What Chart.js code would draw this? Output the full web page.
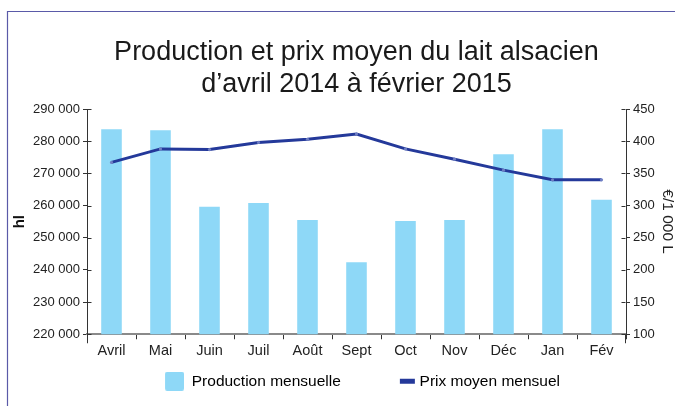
<!DOCTYPE html>
<html><head><meta charset="utf-8">
<script src="https://cdn.jsdelivr.net/npm/chart.js@4/dist/chart.umd.min.js"></script>
<style>html,body{margin:0;padding:0;background:#fff;}</style>
</head><body>
<canvas id="c" width="675" height="406" style="display:block;width:675px;height:406px"></canvas>
<script>
const categories = ['Avril','Mai','Juin','Juil','Août','Sept','Oct','Nov','Déc','Jan','Fév'];
const production = [283700,283400,259600,260800,255500,242400,255200,255500,275900,283700,261800];
const prix = [367,388,387,398,403,411,388,372,355,340,340];
const leftTicks = [220000,230000,240000,250000,260000,270000,280000,290000];
const rightTicks = [100,150,200,250,300,350,400,450];
const titleLines = ['Production et prix moyen du lait alsacien','d\u2019avril 2014 \u00e0 f\u00e9vrier 2015'];
const seriesNames = ['Production mensuelle','Prix moyen mensuel'];

const FONT = "'Liberation Sans', Arial, sans-serif";
const BAR_COLOR = '#8ed8f7';
const LINE_COLOR = '#24399a';
const LEG_W = 61;

function fmt(v){ return String(v).replace(/\B(?=(\d{3})+(?!\d))/g, ' '); }

// legend images
const img1 = document.createElement('canvas');
img1.width = LEG_W; img1.height = 19;
(function(){ const g = img1.getContext('2d'); g.fillStyle = BAR_COLOR;
  const x = LEG_W-19, r = 2; g.beginPath();
  g.moveTo(x+r,0); g.lineTo(x+19-r,0); g.quadraticCurveTo(x+19,0,x+19,r);
  g.lineTo(x+19,19-r); g.quadraticCurveTo(x+19,19,x+19-r,19);
  g.lineTo(x+r,19); g.quadraticCurveTo(x,19,x,19-r); g.lineTo(x,r); g.quadraticCurveTo(x,0,x+r,0);
  g.fill(); })();
const img2 = document.createElement('canvas');
img2.width = LEG_W + 8; img2.height = 19;
(function(){ const g = img2.getContext('2d'); g.fillStyle = LINE_COLOR;
  g.fillRect(img2.width-16, 7, 15, 5); })();

const framePlugin = {
  id: 'frame',
  beforeDraw(chart){
    const ctx = chart.ctx; ctx.save();
    ctx.strokeStyle = '#5a5aa8'; ctx.lineWidth = 1.2;
    ctx.beginPath(); ctx.moveTo(7.5, 406); ctx.lineTo(7.5, 11.5); ctx.lineTo(675, 11.5); ctx.stroke();
    ctx.restore();
  },
  afterDraw(chart){
    const ctx = chart.ctx, ca = chart.chartArea; ctx.save();
    ctx.strokeStyle = '#333'; ctx.lineWidth = 1;
    const y = chart.scales.y, y1 = chart.scales.y1;
    ctx.beginPath();
    const xl = Math.round(ca.left)+0.5, xr = Math.round(ca.right)-0.5;
    ctx.moveTo(xl, ca.bottom); ctx.lineTo(xl, ca.bottom+9);
    ctx.moveTo(xr, ca.bottom); ctx.lineTo(xr, ca.bottom+9);
    leftTicks.forEach(v => { const p = Math.round(y.getPixelForValue(v))+0.5; ctx.moveTo(xl, p); ctx.lineTo(xl+4, p); });
    rightTicks.forEach(v => { const p = Math.round(y1.getPixelForValue(v))+0.5; ctx.moveTo(xr-4, p); ctx.lineTo(xr, p); });
    ctx.stroke();
    ctx.restore();
  }
};

new Chart(document.getElementById('c'), {
  data: {
    labels: categories,
    datasets: [
      { type: 'bar', label: seriesNames[0], data: production, yAxisID: 'y', backgroundColor: BAR_COLOR,
        borderWidth: 0, barPercentage: 0.42, categoryPercentage: 1, order: 1 },
      { type: 'line', label: seriesNames[1], data: prix, yAxisID: 'y1', borderColor: LINE_COLOR, borderWidth: 3,
        pointRadius: 1.6, pointBackgroundColor: '#6f7fc4', pointBorderWidth: 0, tension: 0, order: 0 }
    ]
  },
  options: {
    responsive: false, animation: false, devicePixelRatio: 1,
    layout: { padding: { left: 8, right: 0, top: 0, bottom: 7 } },
    plugins: {
      tooltip: { enabled: false },
      title: { display: true, fullSize: false, text: titleLines, color: '#1a1a1a',
        font: { family: FONT, size: 27, weight: 'normal', lineHeight: 32/27 },
        padding: { top: 37, bottom: 8 } },
      legend: { position: 'bottom', onClick: null,
        labels: { usePointStyle: true, pointStyleWidth: LEG_W, padding: 10, color: '#222',
          font: { family: FONT, size: 15.5 },
          generateLabels: () => [
            { text: seriesNames[0], pointStyle: img1, fillStyle: BAR_COLOR, strokeStyle: BAR_COLOR, lineWidth: 0, hidden: false, datasetIndex: 0 },
            { text: seriesNames[1], pointStyle: img2, fillStyle: LINE_COLOR, strokeStyle: LINE_COLOR, lineWidth: 0, hidden: false, datasetIndex: 1 }
          ] } }
    },
    scales: {
      x: { z: 1,
        grid: { display: true, drawOnChartArea: false, drawTicks: true, tickLength: 5, color: '#333', offset: true },
        border: { display: true, color: '#8a8a8a', width: 2 },
        ticks: { font: { family: FONT, size: 14.5 }, color: '#222', padding: 3, maxRotation: 0, autoSkip: false },
        afterFit(s){ s.height = 29.25; } },
      y: { position: 'left', min: 220000, max: 290000,
        afterBuildTicks(s){ s.ticks = leftTicks.map(v => ({ value: v })); },
        grid: { display: true, drawOnChartArea: false, drawTicks: true, tickLength: 4, color: '#333' },
        border: { display: true, color: '#333', width: 1 },
        ticks: { font: { family: FONT, size: 13 }, color: '#222', padding: 3, callback: v => fmt(v) },
        title: { display: true, text: 'hl', color: '#111', font: { family: FONT, size: 15, weight: 'bold', lineHeight: 1.2 }, padding: { top: 3, bottom: 0 } },
        afterFit(s){ s.width = 79; } },
      y1: { position: 'right', min: 100, max: 450,
        afterBuildTicks(s){ s.ticks = rightTicks.map(v => ({ value: v })); },
        grid: { display: true, drawOnChartArea: false, drawTicks: true, tickLength: 4, color: '#333' },
        border: { display: true, color: '#333', width: 1 },
        ticks: { font: { family: FONT, size: 13 }, color: '#222', padding: 3 },
        title: { display: true, text: '\u20ac/1 000 L', color: '#222', font: { family: FONT, size: 15.5, lineHeight: 1 }, padding: 0 },
        afterFit(s){ s.width = 49; } }
    }
  },
  plugins: [framePlugin]
});
</script>
</body></html>
